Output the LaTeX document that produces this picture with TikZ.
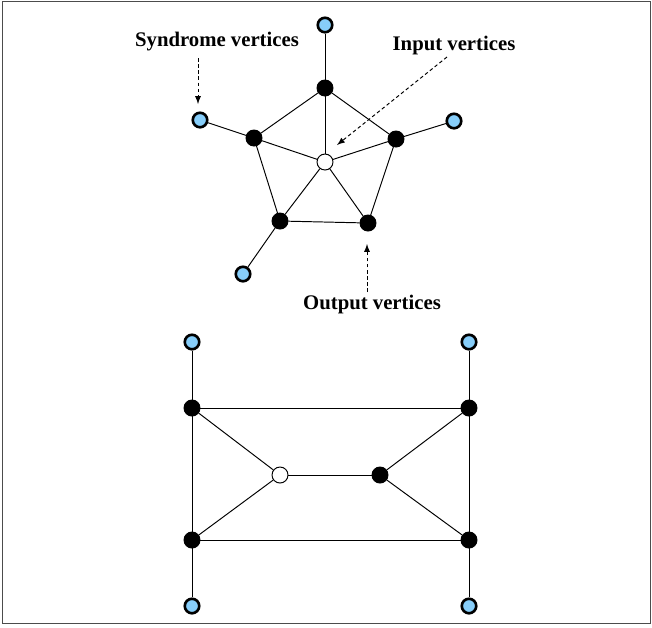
\documentclass[tikz,border=0pt]{standalone}
\usepackage{fontspec}
\setmainfont{Liberation Serif}
\usepackage{tikz}

\definecolor{synblue}{RGB}{135,206,250}

\begin{document}
\begin{tikzpicture}[x=0.02cm, y=-0.02cm, line width=0.55pt,
  outv/.style = {draw, circle, fill=black, inner sep=0pt, minimum size=0.32cm},
  inv/.style = {draw, circle, fill=white, inner sep=0pt, minimum size=0.32cm},
  synv/.style = {draw, circle, fill=synblue, line width=1.5pt, inner sep=0pt, minimum size=0.29cm},
  lbl/.style = {font=\fontsize{11.8}{13}\selectfont\bfseries},
  hint/.style = {dashed, -latex, dash pattern=on 2pt off 1.5pt}]
\useasboundingbox (0,0) rectangle (652,627);
\draw[black!70, line width=0.5pt] (2,1) rectangle (650,623);
% upper graph
\node[inv] (c) at (325,162) {};
\node[outv] (o1) at (325,88) {};
\node[outv] (o2) at (254,138) {};
\node[outv] (o3) at (280,221) {};
\node[outv] (o4) at (368,223) {};
\node[outv] (o5) at (396,139) {};
\node[synv] (s1) at (325,25) {};
\node[synv] (s2) at (200,120) {};
\node[synv] (s3) at (243,274) {};
\node[synv] (s5) at (454,121) {};
\draw[-] (o1) -- (o2);
\draw[-] (o2) -- (o3);
\draw[-] (o3) -- (o4);
\draw[-] (o4) -- (o5);
\draw[-] (o5) -- (o1);
\draw[-] (c) -- (o1);
\draw[-] (c) -- (o2);
\draw[-] (c) -- (o3);
\draw[-] (c) -- (o4);
\draw[-] (c) -- (o5);
\draw[-] (o1) -- (s1);
\draw[-] (o2) -- (s2);
\draw[-] (o3) -- (s3);
\draw[-] (o5) -- (s5);
% labels
\node[lbl] (synlbl) at (217,42) {Syndrome vertices};
\node[lbl] (inlbl) at (454,46) {Input vertices};
\node[lbl] (outlbl) at (372,305) {Output vertices};
\coordinate (synend) at (198,104);
\coordinate (inend) at (337,145);
\coordinate (outend) at (367,244);
\draw[hint] (198,58) -- (synend);
\draw[hint] (447,57) -- (inend);
\draw[hint] (367,292) -- (outend);
% lower graph
\node[outv] (tl) at (192,408) {};
\node[outv] (tr) at (469,408) {};
\node[outv] (bl) at (192,540) {};
\node[outv] (br) at (469,540) {};
\node[inv] (w) at (280,475) {};
\node[outv] (m) at (380,475) {};
\node[synv] (stl) at (192,342) {};
\node[synv] (str) at (469,342) {};
\node[synv] (sbl) at (192,606) {};
\node[synv] (sbr) at (469,606) {};
\draw[-] (tl) -- (tr);
\draw[-] (tr) -- (br);
\draw[-] (br) -- (bl);
\draw[-] (bl) -- (tl);
\draw[-] (tl) -- (w);
\draw[-] (bl) -- (w);
\draw[-] (w) -- (m);
\draw[-] (m) -- (tr);
\draw[-] (m) -- (br);
\draw[-] (tl) -- (stl);
\draw[-] (tr) -- (str);
\draw[-] (bl) -- (sbl);
\draw[-] (br) -- (sbr);
\end{tikzpicture}
\end{document}
